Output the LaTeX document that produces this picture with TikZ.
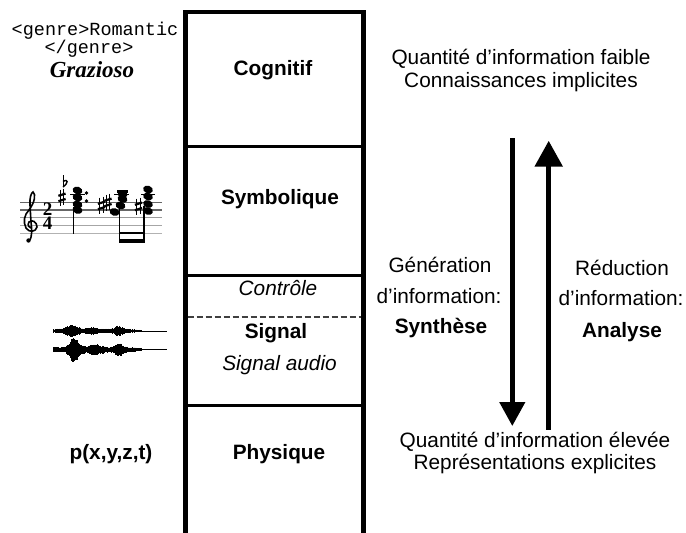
\documentclass[tikz,border=0pt]{standalone}
\usepackage{fontspec}
\setmainfont{Liberation Sans}
\newfontfamily\monofont{Liberation Mono}
\newfontfamily\seriffont{Liberation Serif}
\usetikzlibrary{arrows.meta}
\begin{document}
\begin{tikzpicture}[x=1pt,y=-1pt,
  lbl/.style={anchor=base,inner sep=0pt,font=\fontsize{20.8}{24}\selectfont},
  blbl/.style={anchor=base,inner sep=0pt,font=\fontsize{20.8}{24}\selectfont\bfseries},
  ilbl/.style={anchor=base,inner sep=0pt,font=\fontsize{20.8}{24}\selectfont\itshape},
  mono/.style={anchor=base,inner sep=0pt,font=\fontsize{18.5}{20}\monofont},
  border/.style={line width=4.5pt,line join=miter},
  divider/.style={line width=3.3pt},
  dashdiv/.style={line width=2pt,draw=black!75,dash pattern=on 6pt off 3pt},
  staffline/.style={line width=1.1pt},
  note/.style={fill=black},
  accsharp/.pic={
    \draw[line width=0.9pt] (-1.6,-7.5) -- (-1.6,8.5) (1.6,-8.5) -- (1.6,7.5);
    \draw[line width=2.2pt] (-3.6,-1.2) -- (3.6,-3.4) (-3.6,4.2) -- (3.6,2);
  },
  accflat/.pic={
    \draw[line width=1pt] (-2,-7) -- (-2,5);
    \draw[line width=1.4pt] (-2,5) .. controls (3.5,1) and (3.5,-3.5) .. (-2,-0.5);
  }]
\useasboundingbox (0,0) rectangle (686,533);

% ---- layered box ----
\coordinate (bl) at (185.5,533);
\coordinate (tl) at (185.5,12);
\coordinate (tr) at (363.3,12);
\coordinate (br) at (363.3,533);
\draw[border] (bl) -- (tl) -- (tr) -- (br);
\coordinate (d1l) at (185.5,146.7); \coordinate (d1r) at (363.3,146.7);
\coordinate (d2l) at (185.5,275.7); \coordinate (d2r) at (363.3,275.7);
\coordinate (d3l) at (185.5,405.3); \coordinate (d3r) at (363.3,405.3);
\coordinate (dsl) at (187.7,316.7); \coordinate (dsr) at (361.1,316.7);
\draw[divider] (d1l) -- (d1r);
\draw[divider] (d2l) -- (d2r);
\draw[divider] (d3l) -- (d3r);
\draw[dashdiv] (dsl) -- (dsr);

\node[blbl] (cog) at (273,75) {Cognitif};
\node[blbl] (sym) at (280,204) {Symbolique};
\node[ilbl] (ctl) at (278,295) {Contrôle};
\node[blbl] (sig) at (276,338) {Signal};
\node[ilbl] (sau) at (279.5,370) {Signal audio};
\node[blbl] (phy) at (279,459) {Physique};

% ---- left column ----
\node[mono] (g1) at (95,35) {<genre>Romantic};
\node[mono] (g2) at (89,53) {</genre>};
\node[anchor=base,inner sep=0pt,font=\fontsize{23}{25}\seriffont\bfseries\itshape] (graz) at (92,77) {Grazioso};
\node[blbl] (pxyz) at (111,459) {p(x,y,z,t)};

% music staff
\foreach \yy/\cc in {202.3/60,210/60,217.8/40,225.5/35,233.3/30}
  \draw[staffline,draw=black!\cc] (20,\yy) -- (162,\yy);
% treble clef
\draw[line width=1.6pt] (30,240) .. controls (32,236) and (32,230) .. (31,222) -- (30,205)
  .. controls (29.5,198) and (31,193) .. (33,192) .. controls (36,194) and (35,202) .. (29,210)
  .. controls (24,215) and (23,222) .. (26,228) .. controls (29,233) and (36,232) .. (37,227)
  .. controls (37,222) and (32,219) .. (29,222) .. controls (27,225) and (29,228) .. (31,228);
\fill (28.5,240.5) circle (2.2pt);
% time signature
\node[inner sep=0pt,align=center,font=\fontsize{19}{14.5}\seriffont\bfseries] (ts) at (47.5,216) {2\\4};
% accidentals
\pic at (65,182) {accflat};
\pic at (62,197) {accsharp};
\pic at (101.5,205) {accsharp};
\pic at (108,202) {accsharp};
\pic at (138.5,206) {accsharp};
% chord 1
\draw[line width=1.2pt] (70,194.5) -- (85,194.5);
\foreach \ny in {190.5,197.5,204.5,210}
  \fill[note,rotate around={-20:(77.5,\ny)}] (77.5,\ny) ellipse [x radius=5pt,y radius=3.8pt];
\fill (86.5,193) circle (1.8pt);
\fill (86.5,201) circle (1.8pt);
\draw[line width=1.2pt] (73.2,207) -- (73.2,233.5);
% chord 2
\draw[line width=1.2pt] (114,194.5) -- (129,194.5);
\fill (117,190) rectangle (128,192.5);
\foreach \nx/\ny in {114.5/212,120.5/205.5,122.5/199,122.5/194}
  \fill[note,rotate around={-20:(\nx,\ny)}] (\nx,\ny) ellipse [x radius=5pt,y radius=3.8pt];
\draw[line width=1.2pt] (119.3,205) -- (119.3,243.3);
% chord 3
\draw[line width=1.2pt] (141,194.5) -- (155,194.5);
\foreach \ny in {189.5,196.5,204,211}
  \fill[note,rotate around={-20:(148,\ny)}] (148,\ny) ellipse [x radius=5pt,y radius=3.8pt];
\draw[line width=1.2pt] (144,206) -- (144,243.3);
% beams
\fill (118.7,231.5) rectangle (144.6,234.3);
\fill (118.7,239.3) rectangle (144.6,243.3);

% waveform
\pgfmathsetseed{11}
\foreach \wx in {53,53.5,...,141} {
  \pgfmathsetmacro{\ea}{2.2+4.5*exp(-((\wx-72)/7)^2)+2*exp(-((\wx-92)/5)^2)+3.3*exp(-((\wx-118)/5)^2)-1.2*exp(-((\wx-141)/6)^2)}
  \pgfmathsetmacro{\eb}{2.5+9.5*exp(-((\wx-74)/6)^2)+3*exp(-((\wx-95)/8)^2)+4*exp(-((\wx-119)/5)^2)-1.4*exp(-((\wx-141)/6)^2)}
  \pgfmathsetmacro{\ra}{\ea*(0.6+0.4*rnd)}
  \pgfmathsetmacro{\rb}{\eb*(0.6+0.4*rnd)}
  \draw[line width=0.9pt] (\wx,331-\ra) -- (\wx,331+\ra);
  \draw[line width=0.9pt] (\wx,349.5-\rb) -- (\wx,349.5+\rb*1.15);
}
\draw[line width=1pt] (140,331) -- (167,331);
\draw[line width=1pt] (140,349.5) -- (167,349.5);

% ---- right side ----
\node[lbl] (qf) at (521,64) {Quantité d’information faible};
\node[lbl] (ci) at (521,87) {Connaissances implicites};
\node[lbl] (qe) at (535,447) {Quantité d’information élevée};
\node[lbl] (re) at (535,469.5) {Représentations explicites};

\node[lbl] (gen1) at (440,272) {Génération};
\node[lbl] (gen2) at (439,303) {d’information:};
\node[blbl] (gen3) at (441,333) {Synthèse};
\node[lbl] (red1) at (622,275) {Réduction};
\node[lbl] (red2) at (621,305) {d’information:};
\node[blbl] (red3) at (622,337) {Analyse};

\coordinate (dtop) at (512.3,138.3);
\coordinate (dbot) at (512.3,426);
\coordinate (ubot) at (548.7,429.5);
\coordinate (utop) at (548.7,140.7);
\draw[line width=4.5pt,-{Triangle[width=25pt,length=24pt]}] (dtop) -- (dbot);
\draw[line width=5.5pt,-{Triangle[width=27pt,length=26pt]}] (ubot) -- (utop);
\end{tikzpicture}
\end{document}
